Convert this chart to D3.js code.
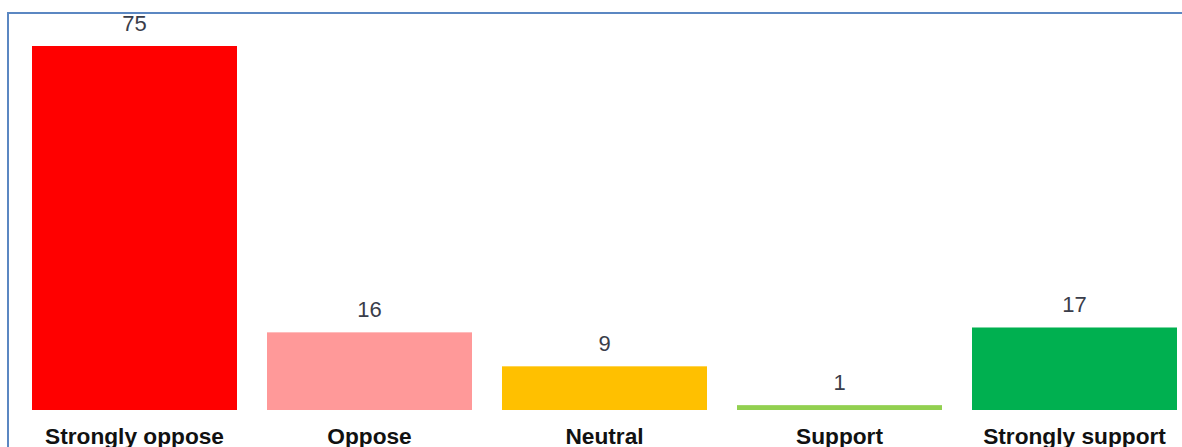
<!DOCTYPE html>
<html><head><meta charset="utf-8">
<script src="https://cdn.jsdelivr.net/npm/d3@7"></script>
<style>body{margin:0;background:#fff;overflow:hidden}svg{display:block}</style>
</head><body>
<script>
const categories = ["Strongly oppose","Oppose","Neutral","Support","Strongly support"];
const values = [75,16,9,1,17];
const colors = ["#ff0000","#ff9999","#ffc000","#92d050","#00b050"];

const W = 1182, H = 447;
const svg = d3.select("body").append("svg").attr("width",W).attr("height",H);

svg.append("rect").attr("x",8).attr("y",13).attr("width",W+20).attr("height",H+20)
  .attr("fill","none").attr("stroke","#5b87c2").attr("stroke-width",2);

const p = 30/235;
const x = d3.scaleBand().domain(categories).range([2, 2 + 235*(5+p)]).paddingInner(p).paddingOuter(p);
const y = d3.scaleLinear().domain([0,75]).range([410,46]);

const g = svg.append("g");
g.selectAll("rect.bar").data(categories).join("rect").attr("class","bar")
  .attr("x",d=>x(d)).attr("width",x.bandwidth())
  .attr("y",(d,i)=>y(values[i])).attr("height",(d,i)=>y(0)-y(values[i]))
  .attr("fill",(d,i)=>colors[i]);

g.selectAll("text.val").data(categories).join("text").attr("class","val")
  .attr("x",d=>x(d)+x.bandwidth()/2).attr("y",(d,i)=>y(values[i])-15)
  .attr("text-anchor","middle").attr("font-family","Liberation Sans, Arial, sans-serif")
  .attr("font-size",22).attr("fill","#3a3d4a").text((d,i)=>values[i]);

const xAxis = d3.axisBottom(x).tickSize(0).tickPadding(0);
const ax = svg.append("g").attr("transform","translate(0,410)").call(xAxis);
ax.select(".domain").remove();
ax.selectAll("text").attr("y",34).attr("dy",0)
  .attr("font-family","Liberation Sans, Arial, sans-serif").attr("font-size",22.7)
  .attr("font-weight","bold").attr("fill","#111");
</script>
</body></html>
